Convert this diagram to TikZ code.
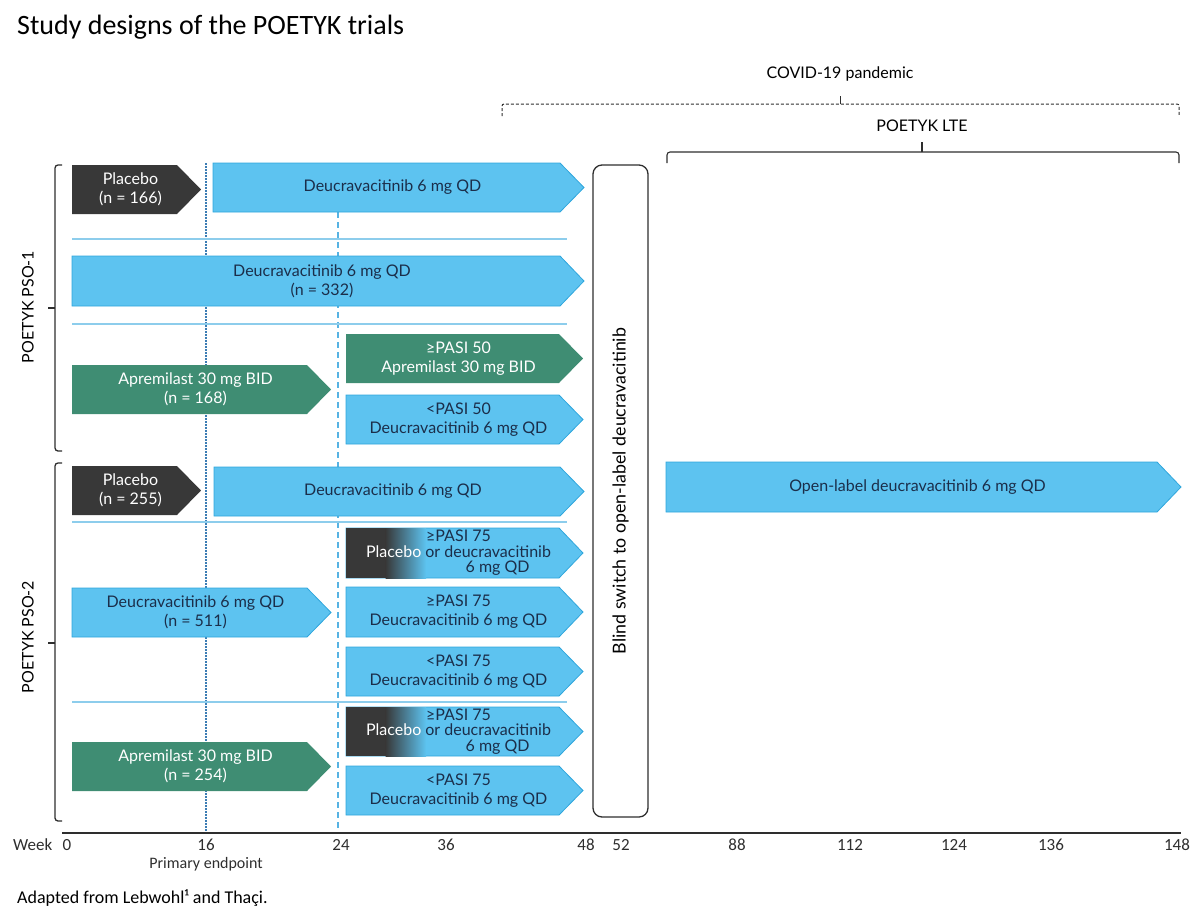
\documentclass[tikz,border=0pt]{standalone}
\usepackage{fontspec}
\setmainfont{Lato}
\newfontfamily\calibri{Carlito}
\usetikzlibrary{positioning}

\definecolor{armblue}{HTML}{5DC3F0}
\definecolor{armedge}{HTML}{2FA6DC}
\definecolor{armgreen}{HTML}{3F8D73}
\definecolor{armdark}{HTML}{383838}
\definecolor{navy}{HTML}{1B2E4A}
\definecolor{seplight}{HTML}{8DCDEC}
\definecolor{axisgray}{HTML}{2E2E2E}
\definecolor{endpoint}{HTML}{3C7DB4}
\definecolor{switchline}{HTML}{57B3E3}

% arm box: name, style, left, tip, top, bottom, text
\newcommand{\armbox}[7]{%
  \path[#2] (#3,#5) -- ({#4-24},#5) -- (#4,{(#5+#6)/2}) -- ({#4-24},#6) -- (#3,#6) -- cycle;
  \node[#2 text] (#1) at ({(#3+#4)/2-6},{(#5+#6)/2}) {#7};
}
% placebo -> deucravacitinib box: name, top, bottom, threshold
\newcommand{\mixbox}[4]{%
  \path[bluearm] (346,#2) -- (559,#2) -- (583,{(#2+#3)/2}) -- (559,#3) -- (346,#3) -- cycle;
  \fill[armdark] (346,#2) rectangle (386,#3);
  \shade[left color=armdark, right color=armblue] (385.5,#2) rectangle (426,#3);
  \node[bluearm text, font=\fontsize{16}{15.5}\selectfont] (#1) at (458.5,{(#2+#3)/2})
    {#4\\\textcolor{white}{Placebo} or deucravacitinib\\\hphantom{Placebo or }6 mg QD};
}

\begin{document}
\begin{tikzpicture}[
  x=1pt, y=-1pt,
  every node/.style={inner sep=0pt, font=\fontsize{16}{19}\selectfont},
  bluearm/.style={fill=armblue, draw=armedge, line width=0.8pt},
  bluearm text/.style={text=navy, align=center},
  greenarm/.style={fill=armgreen},
  greenarm text/.style={text=white, align=center},
  darkarm/.style={fill=armdark},
  darkarm text/.style={text=white, align=center},
  sep/.style={draw=seplight, line width=1.2pt},
  brace/.style={draw=axisgray, line width=1.3pt, rounded corners=3pt},
  axislbl/.style={font=\calibri\fontsize{17}{20}\selectfont, text=axisgray}
]
\path[use as bounding box] (0,0) rectangle (1200,922);

\node[anchor=west, font=\calibri\fontsize{28}{32}\selectfont] (title) at (17,27) {Study designs of the POETYK trials};

% week 16 and week 24 lines
\draw[endpoint, line width=1.5pt, dash pattern=on 1.5pt off 1.5pt] (206,163) -- (206,833);
\draw[switchline, line width=1.5pt, dash pattern=on 6pt off 4pt] (338,212) -- (338,833);

% row separators
\foreach \yy in {239,324,522,702}
  \draw[sep] (72,\yy) -- (567,\yy);

% POETYK PSO-1
\armbox{plcA}{darkarm}{72}{201}{165}{214}{Placebo\\(n = 166)}
\armbox{dcvA}{bluearm}{213}{584}{163}{212}{Deucravacitinib 6 mg QD}
\armbox{dcvB}{bluearm}{72}{584}{256}{306}{Deucravacitinib 6 mg QD\\(n = 332)}
\armbox{aprA}{greenarm}{72}{331}{365}{414}{Apremilast 30 mg BID\\(n = 168)}
\armbox{aprAr}{greenarm}{346}{583}{334}{383}{≥PASI 50\\Apremilast 30 mg BID}
\armbox{dcvAr}{bluearm}{346}{583}{395}{444}{<PASI 50\\Deucravacitinib 6 mg QD}

% POETYK PSO-2
\armbox{plcB}{darkarm}{72}{201}{466}{515}{Placebo\\(n = 255)}
\armbox{dcvC}{bluearm}{214}{584}{467}{516}{Deucravacitinib 6 mg QD}
\mixbox{mixA}{528}{578}{≥PASI 75}
\armbox{dcvD}{bluearm}{72}{331}{588}{637}{Deucravacitinib 6 mg QD\\(n = 511)}
\armbox{dcvDr}{bluearm}{346}{583}{587}{637}{≥PASI 75\\Deucravacitinib 6 mg QD}
\armbox{dcvDs}{bluearm}{346}{583}{647}{696}{<PASI 75\\Deucravacitinib 6 mg QD}
\mixbox{mixB}{707}{756}{≥PASI 75}
\armbox{aprB}{greenarm}{72}{331}{742}{791}{Apremilast 30 mg BID\\(n = 254)}
\armbox{dcvBr}{bluearm}{346}{583}{766}{815}{<PASI 75\\Deucravacitinib 6 mg QD}

% blind switch
\node[draw=axisgray, line width=1.3pt, rounded corners=9pt, rotate=90,
      minimum width=652, minimum height=55, font=\fontsize{17.8}{20}\selectfont] (blind) at (620.5,491)
  {Blind switch to open-label deucravacitinib};

% LTE
\armbox{lte}{bluearm}{666}{1181}{462}{512}{Open-label deucravacitinib 6 mg QD}

% trial brackets
\draw[brace] (62,165) -- (55,165) -- (55,451) -- (62,451);
\draw[brace] (55,308) -- (48,308);
\node[rotate=90] (pso1) at (28,307) {POETYK PSO-1};
\draw[brace] (62,463) -- (55,463) -- (55,821) -- (62,821);
\draw[brace] (55,643) -- (48,643);
\node[rotate=90] (pso2) at (28,637) {POETYK PSO-2};

% covid and LTE brackets
\node (covid) at (840,74) {COVID-19 pandemic};
\draw[axisgray, line width=1pt, dash pattern=on 3pt off 2pt, rounded corners=2pt]
  (502,116) -- (502,104) -- (1179,104) -- (1179,116);
\draw[axisgray, line width=1pt] (840,104) -- (840,96);
\node (ltelbl) at (922,126) {POETYK LTE};
\draw[brace, line width=1.1pt] (667,163) -- (667,152) -- (1179,152) -- (1179,163);
\draw[axisgray, line width=1.1pt] (922,152) -- (922,142);

% time axis
\draw[axisgray, line width=2pt] (62,833) -- (1181,833);
\foreach \wk/\xx in {0/67,16/206,24/341,36/446,48/586,52/621,88/737,112/850,124/954,136/1051,148/1177}
  \node[axislbl] (wk\wk) at (\xx,845) {\wk};
\node[axislbl, left=10pt of wk0] (week) {Week};
\node[axislbl, below=6pt of wk16, font=\calibri\fontsize{16}{19}\selectfont] (primary) {Primary endpoint};

\node[anchor=west, font=\calibri\fontsize{18}{21}\selectfont] (source) at (17,898) {Adapted from Lebwohl¹ and Thaçi.};
\end{tikzpicture}
\end{document}
